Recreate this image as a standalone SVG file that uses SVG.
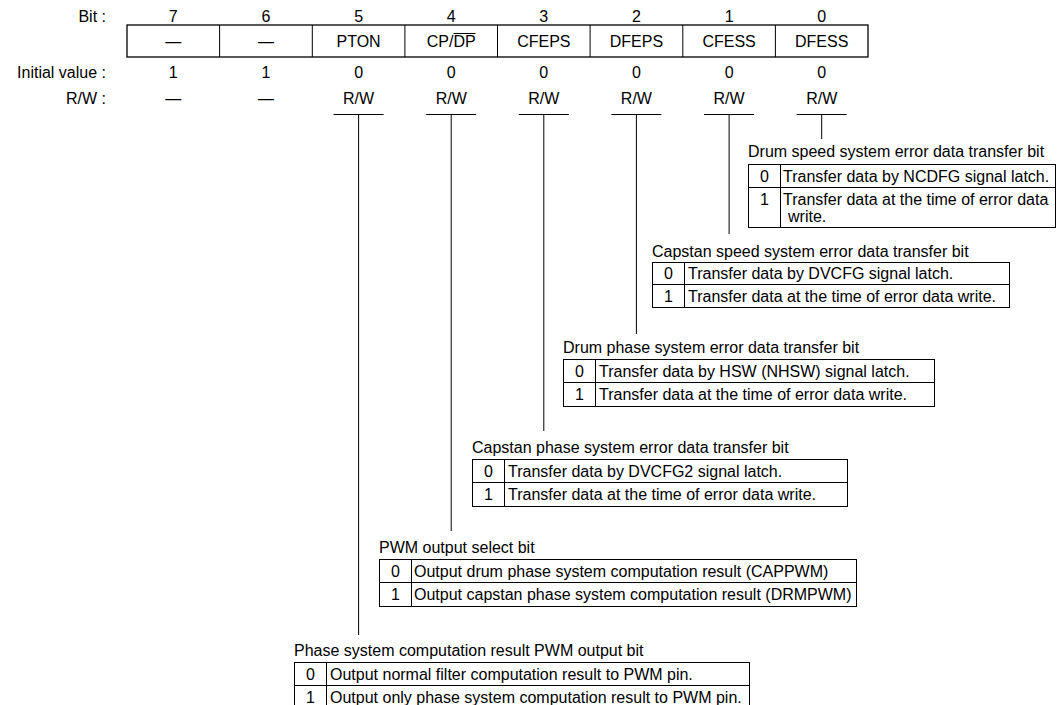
<svg xmlns="http://www.w3.org/2000/svg" width="1058" height="705" viewBox="0 0 1058 705">
<style>
text{font-family:"Liberation Sans",Arial,sans-serif;font-size:16px;fill:#000}
.c{text-anchor:middle}
.r{text-anchor:end}
.ln{stroke:#000;stroke-width:1;fill:none}
.bx{stroke:#000;stroke-width:1.3;fill:#fff}
</style>
<rect width="1058" height="705" fill="#fff"/>
<g id="labels">
<text class="r" x="106" y="22">Bit :</text>
<text class="r" x="106" y="78">Initial value :</text>
<text class="r" x="106" y="104">R/W :</text>
</g>
<g id="register">
<rect class="bx" x="127" y="25" width="741" height="32"/>
<path class="ln" d="M219.6 25V57M312.3 25V57M404.9 25V57M497.5 25V57M590.1 25V57M682.8 25V57M775.4 25V57"/>
<g class="c">
<text x="173.3" y="22">7</text><text x="266" y="22">6</text><text x="358.6" y="22">5</text><text x="451.2" y="22">4</text><text x="543.8" y="22">3</text><text x="636.4" y="22">2</text><text x="729.1" y="22">1</text><text x="821.7" y="22">0</text>
<text x="173.3" y="46.5">—</text><text x="266" y="46.5">—</text>
<text x="358.6" y="46.5">PTON</text><text x="451.2" y="46.5">CP/DP</text><text x="543.8" y="46.5">CFEPS</text><text x="636.4" y="46.5">DFEPS</text><text x="729.1" y="46.5">CFESS</text><text x="821.7" y="46.5">DFESS</text>
<text x="173.3" y="78">1</text><text x="266" y="78">1</text><text x="358.6" y="78">0</text><text x="451.2" y="78">0</text><text x="543.8" y="78">0</text><text x="636.4" y="78">0</text><text x="729.1" y="78">0</text><text x="821.7" y="78">0</text>
<text x="173.3" y="104">—</text><text x="266" y="104">—</text>
<text x="358.6" y="104">R/W</text><text x="451.2" y="104">R/W</text><text x="543.8" y="104">R/W</text><text x="636.4" y="104">R/W</text><text x="729.1" y="104">R/W</text><text x="821.7" y="104">R/W</text>
</g>
<path class="ln" d="M453.5 33.5H475.5"/>
</g>
<g id="connectors">
<path class="ln" d="M333.6 114.5H383.6M358.6 114.5V635"/>
<path class="ln" d="M426.2 114.5H476.2M451.2 114.5V531"/>
<path class="ln" d="M518.8 114.5H568.8M543.8 114.5V431"/>
<path class="ln" d="M611.4 114.5H661.4M636.4 114.5V334"/>
<path class="ln" d="M704.1 114.5H754.1M729.1 114.5V234"/>
<path class="ln" d="M796.7 114.5H846.7M821.7 114.5V139"/>
</g>
<g id="dfess">
<text x="748" y="157">Drum speed system error data transfer bit</text>
<rect class="ln" x="748.5" y="164.5" width="307" height="63"/>
<path class="ln" d="M748.5 187.5H1055.5M780.5 164.5V227.5"/>
<text class="c" x="764.5" y="182">0</text><text x="783" y="182">Transfer data by NCDFG signal latch.</text>
<text class="c" x="764.5" y="205">1</text><text x="783" y="205">Transfer data at the time of error data</text><text x="788" y="222">write.</text>
</g>
<g id="cfess">
<text x="652" y="257">Capstan speed system error data transfer bit</text>
<rect class="ln" x="652.5" y="262.5" width="357" height="45"/>
<path class="ln" d="M652.5 284.5H1009.5M684.5 262.5V307.5"/>
<text class="c" x="668.5" y="279">0</text><text x="688" y="279">Transfer data by DVCFG signal latch.</text>
<text class="c" x="668.5" y="302">1</text><text x="688" y="302">Transfer data at the time of error data write.</text>
</g>
<g id="dfeps">
<text x="563" y="353">Drum phase system error data transfer bit</text>
<rect class="ln" x="563.5" y="359.5" width="371" height="47"/>
<path class="ln" d="M563.5 382.5H934.5M595.5 359.5V406.5"/>
<text class="c" x="579.5" y="377">0</text><text x="599" y="377">Transfer data by HSW (NHSW) signal latch.</text>
<text class="c" x="579.5" y="400">1</text><text x="599" y="400">Transfer data at the time of error data write.</text>
</g>
<g id="cfeps">
<text x="472" y="453">Capstan phase system error data transfer bit</text>
<rect class="ln" x="472.5" y="459.5" width="375" height="47"/>
<path class="ln" d="M472.5 482.5H847.5M504.5 459.5V506.5"/>
<text class="c" x="488.5" y="477">0</text><text x="508" y="477">Transfer data by DVCFG2 signal latch.</text>
<text class="c" x="488.5" y="500">1</text><text x="508" y="500">Transfer data at the time of error data write.</text>
</g>
<g id="cpdp">
<text x="379" y="553">PWM output select bit</text>
<rect class="ln" x="379.5" y="559.5" width="477" height="47"/>
<path class="ln" d="M379.5 582.5H856.5M411.5 559.5V606.5"/>
<text class="c" x="395.5" y="577">0</text><text x="414" y="577">Output drum phase system computation result (CAPPWM)</text>
<text class="c" x="395.5" y="600">1</text><text x="414" y="600">Output capstan phase system computation result (DRMPWM)</text>
</g>
<g id="pton">
<text x="294" y="656">Phase system computation result PWM output bit</text>
<rect class="ln" x="294.5" y="662.5" width="455" height="47"/>
<path class="ln" d="M294.5 685.5H749.5M326.5 662.5V709.5"/>
<text class="c" x="310.5" y="680">0</text><text x="330" y="680">Output normal filter computation result to PWM pin.</text>
<text class="c" x="310.5" y="703">1</text><text x="330" y="703">Output only phase system computation result to PWM pin.</text>
</g>
</svg>
